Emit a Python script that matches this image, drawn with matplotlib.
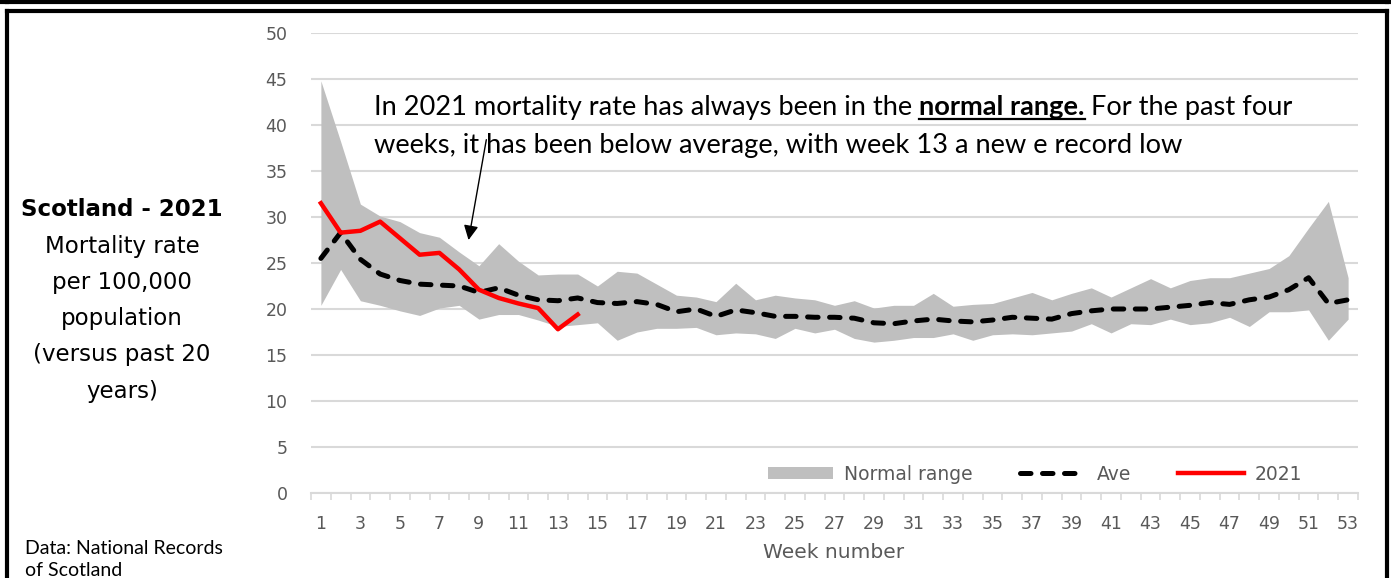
import numpy as np
import matplotlib
matplotlib.use("Agg")
import matplotlib.pyplot as plt
from matplotlib.lines import Line2D
from matplotlib.patches import Patch

# weekly mortality rate per 100,000
weeks = np.arange(1, 54)
range_hi = [44.8, 38.2, 31.4, 30.1, 29.5, 28.3, 27.8, 26.2, 24.7, 27.1,
            25.2, 23.7, 23.8, 23.8, 22.5, 24.1, 23.9, 22.7, 21.5, 21.3,
            20.8, 22.8, 21.0, 21.5, 21.2, 21.0, 20.4, 20.9, 20.1, 20.4,
            20.4, 21.7, 20.3, 20.5, 20.6, 21.2, 21.8, 21.0, 21.7, 22.3,
            21.3, 22.3, 23.3, 22.3, 23.1, 23.4, 23.4, 23.9, 24.4, 25.8,
            28.8, 31.7, 23.4]
range_lo = [20.4, 24.3, 20.9, 20.4, 19.8, 19.3, 20.1, 20.4, 18.9, 19.4,
            19.4, 18.8, 18.1, 18.3, 18.5, 16.6, 17.5, 17.9, 17.9, 18.0,
            17.2, 17.4, 17.3, 16.8, 17.9, 17.4, 17.8, 16.8, 16.4, 16.6,
            16.9, 16.9, 17.3, 16.6, 17.2, 17.3, 17.2, 17.4, 17.6, 18.4,
            17.4, 18.4, 18.3, 18.9, 18.3, 18.5, 19.1, 18.1, 19.7, 19.7,
            19.9, 16.6, 18.9]
ave = [25.5, 28.3, 25.4, 23.8, 23.1, 22.7, 22.6, 22.5, 21.8, 22.3,
       21.5, 21.0, 20.9, 21.2, 20.7, 20.6, 20.8, 20.5, 19.7, 20.0,
       19.2, 19.9, 19.6, 19.2, 19.2, 19.1, 19.1, 19.0, 18.5, 18.4,
       18.7, 18.9, 18.7, 18.6, 18.8, 19.1, 19.0, 18.9, 19.5, 19.8,
       20.0, 20.0, 20.0, 20.2, 20.4, 20.7, 20.5, 21.0, 21.3, 22.1,
       23.4, 20.6, 21.0]
y2021 = [31.5, 28.3, 28.5, 29.5, 27.7, 25.9, 26.1, 24.3, 22.1, 21.2,
         20.6, 20.1, 17.8, 19.4]
weeks_2021 = weeks[:len(y2021)]
xtick_labels = [str(w) for w in range(1, 54, 2)]

W, H = 1391, 578
fig = plt.figure(figsize=(W / 100, H / 100), dpi=100)
ax = fig.add_axes([311 / W, (H - 493) / H, (1358 - 311) / W, (493 - 33) / H])

grey = "#BFBFBF"
grid_c = "#D9D9D9"
txt_c = "#595959"

ax.fill_between(weeks, range_lo, range_hi, color=grey, lw=0, zorder=2)
ax.plot(weeks, ave, color="black", lw=3.6, dashes=(2.1, 2.3),
        dash_capstyle="round", zorder=3)
ax.plot(weeks_2021, y2021, color="#FF0000", lw=3.2, zorder=4)

ax.set_xlim(0.5, 53.5)
ax.set_ylim(0, 50)
ax.set_yticks(np.arange(0, 51, 5))
ax.set_xticks(range(1, 54, 2))
ax.set_xticklabels(xtick_labels)
ax.set_xticks(np.arange(0.5, 54, 1), minor=True)
ax.yaxis.grid(True, color=grid_c, lw=1.5, zorder=0)
ax.set_axisbelow(True)
for s in ["left", "right", "top"]:
    ax.spines[s].set_visible(False)
ax.spines["bottom"].set_color(grid_c)
ax.spines["bottom"].set_linewidth(1.5)
ax.tick_params(axis="y", length=0, pad=17, labelsize=12.5, labelcolor=txt_c)
ax.tick_params(axis="x", which="major", length=0, pad=16, labelsize=12.5,
               labelcolor=txt_c)
ax.tick_params(axis="x", which="minor", length=5, width=1.2, color=grid_c)

# legend
handles = [Patch(facecolor=grey, edgecolor="none"),
           Line2D([], [], color="black", lw=3.6, dashes=(2.1, 2.3),
                  dash_capstyle="round"),
           Line2D([], [], color="#FF0000", lw=3.2)]
leg = ax.legend(handles, ["Normal range", "Ave", "2021"], ncol=3,
                loc="center", bbox_to_anchor=(1035 / W, (H - 474) / H),
                bbox_transform=fig.transFigure, frameon=False,
                fontsize=13.5, handlelength=3.5, handleheight=0.6,
                handletextpad=0.6, columnspacing=2.5)
for t in leg.get_texts():
    t.set_color(txt_c)

fig.text(834 / W, (H - 553) / H, "Week number", ha="center", va="center",
         fontsize=14.5, color=txt_c)

# left description
left_lines = ["Mortality rate", "per 100,000", "population",
              "(versus past 20", "years)"]
fig.text(122 / W, (H - 210) / H, "Scotland - 2021", ha="center", va="center",
         fontsize=16.5, fontweight="bold")
for i, s in enumerate(left_lines):
    fig.text(122 / W, (H - 246 - i * 36.3) / H, s, ha="center", va="center",
             fontsize=16.5)

fig.text(25 / W, (H - 548) / H, "Data: National Records", ha="left",
         va="center", fontsize=14, family="Lato")
fig.text(25 / W, (H - 571) / H, "of Scotland", ha="left", va="center",
         fontsize=14, family="Lato")

# annotation with bold underlined part
afont = dict(fontsize=19.6, family="Lato")
fig.canvas.draw()
r = fig.canvas.get_renderer()
x0, yb1, yb2 = 374, H - 115, H - 153
t1 = fig.text(x0 / W, yb1 / H, "In 2021 mortality rate has always been in the ",
              va="baseline", **afont)
w1 = t1.get_window_extent(r).width
t2 = fig.text((x0 + w1) / W, yb1 / H, "normal range.", va="baseline",
              fontweight="bold", **afont)
w2 = t2.get_window_extent(r).width
fig.add_artist(Line2D([(x0 + w1) / W, (x0 + w1 + w2) / W],
                      [(yb1 - 4) / H, (yb1 - 4) / H], color="black", lw=1.6))
fig.text((x0 + w1 + w2) / W, yb1 / H, " For the past four", va="baseline",
         **afont)
fig.text(x0 / W, yb2 / H,
         "weeks, it has been below average, with week 13 a new e record low",
         va="baseline", **afont)

ax.annotate("", xy=(8.45, 27.2), xytext=(9.4, 38.7),
            arrowprops=dict(arrowstyle="-|>", color="black", lw=1.0,
                            mutation_scale=22), zorder=5)

# outer frame lines
def fl(xs, ys, lw=3.0):
    fig.add_artist(Line2D([x / W for x in xs], [(H - y) / H for y in ys],
                          color="black", lw=lw, solid_capstyle="projecting"))

fl([0, W], [2, 2])
fl([7, 7], [0, 2])
fl([1387, 1387], [0, 2])
fl([7, 1387], [11, 11])
fl([7, 7], [11, H + 5])
fl([1387, 1387], [11, H + 5])

fig.savefig("out.png", dpi=100)
